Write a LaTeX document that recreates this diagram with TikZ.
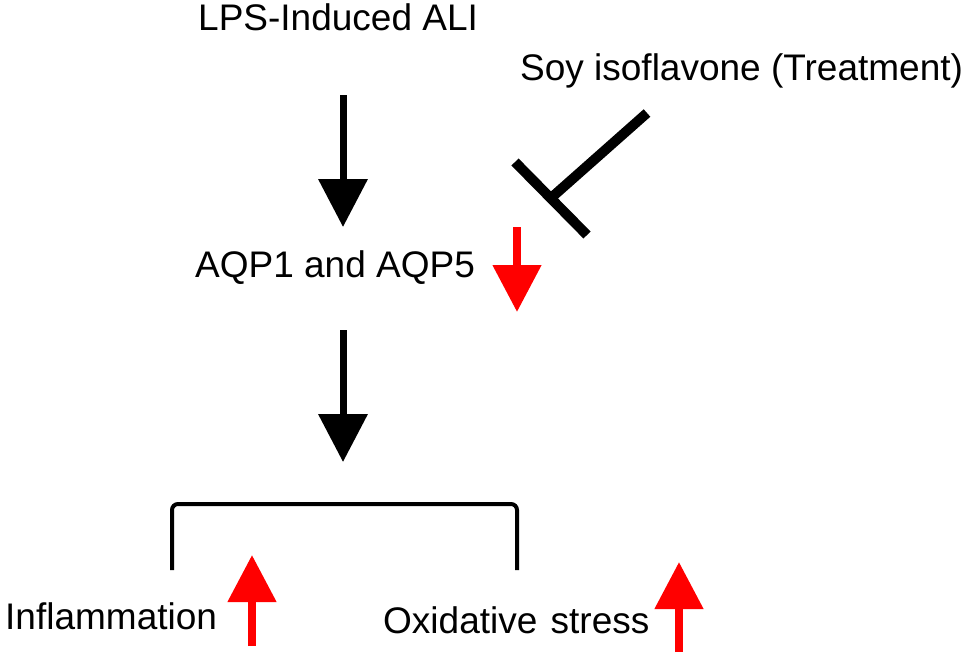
\documentclass[tikz,border=0pt]{standalone}
\usepackage{fontspec}
\setmainfont{Liberation Sans}
\usetikzlibrary{arrows.meta}
\begin{document}
\begin{tikzpicture}[x=1pt,y=-1pt,
  lbl/.style={anchor=base west,inner sep=0pt,font=\fontsize{37}{40}\selectfont},
  blackarrow/.style={line width=7pt,-{Triangle[length=48pt,width=48pt]}},
  redarrow/.style={red,line width=8pt,-{Triangle[length=47pt,width=47pt]}},
  inhib/.style={line width=10pt},
  bracket/.style={line width=4pt,rounded corners=6pt}]
\useasboundingbox (0,0) rectangle (975,659);
\node[lbl] (lps) at (198,30) {LPS-Induced ALI};
\node[lbl] (soy) at (520,80) {Soy isoflavone (Treatment)};
\node[lbl] (aqp) at (195,277) {AQP1 and AQP5};
\node[lbl] (infl) at (5,629) {Inflammation};
\node[lbl] (ox) at (383,633) {Oxidative\hspace{3pt} stress};
% arrows
\coordinate (a1s) at (343,95);
\coordinate (a1e) at (343,227);
\draw[blackarrow] (a1s) -- (a1e);
\coordinate (a2s) at (343,330);
\coordinate (a2e) at (343,462);
\draw[blackarrow] (a2s) -- (a2e);
% inhibitor
\coordinate (i1) at (647,113);
\coordinate (i2) at (551,198);
\coordinate (b1) at (515,162);
\coordinate (b2) at (587,235);
\draw[inhib] (i1) -- (i2);
\draw[inhib] (b1) -- (b2);
% red arrows
\coordinate (r1s) at (517,227);
\coordinate (r1e) at (517,312);
\draw[redarrow] (r1s) -- (r1e);
\coordinate (r2s) at (252,646);
\coordinate (r2e) at (252,555);
\draw[redarrow] (r2s) -- (r2e);
\coordinate (r3s) at (679,652);
\coordinate (r3e) at (679,562);
\draw[redarrow] (r3s) -- (r3e);
% bracket
\coordinate (k1) at (172,570);
\coordinate (k2) at (172,504);
\coordinate (k3) at (517,504);
\coordinate (k4) at (517,570);
\draw[bracket] (k1) -- (k2) -- (k3) -- (k4);
\end{tikzpicture}
\end{document}
